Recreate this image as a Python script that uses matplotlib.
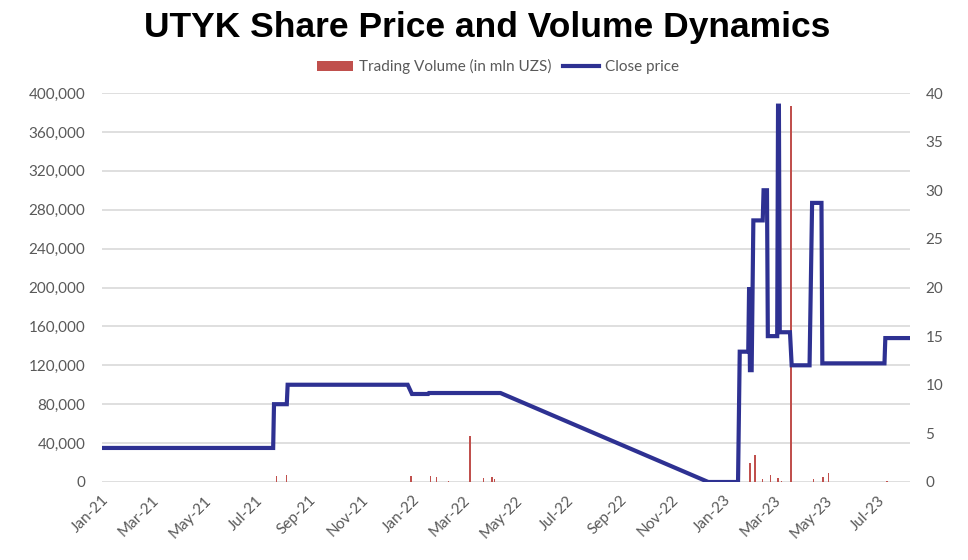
import numpy as np
import pandas as pd
import matplotlib
matplotlib.use("Agg")
import matplotlib.pyplot as plt
import matplotlib.dates as mdates
from matplotlib.ticker import FuncFormatter, MultipleLocator
from matplotlib.patches import Patch
from matplotlib.lines import Line2D

# close price (right axis), breakpoints
price_dates = [
    "2021-01-01", "2021-07-21", "2021-07-22", "2021-08-06", "2021-08-07",
    "2021-12-26", "2021-12-31", "2022-01-19", "2022-01-20", "2022-04-14",
    "2022-12-14", "2023-01-18", "2023-01-20", "2023-01-30", "2023-01-31",
    "2023-02-01", "2023-02-03", "2023-02-05", "2023-02-16", "2023-02-17",
    "2023-02-21", "2023-02-22", "2023-03-05", "2023-03-06", "2023-03-07",
    "2023-03-08", "2023-03-20", "2023-03-22", "2023-04-12", "2023-04-15",
    "2023-04-26", "2023-04-27", "2023-07-09", "2023-07-10", "2023-08-08",
]
price_values = [
    3.5, 3.5, 8.0, 8.0, 10.0,
    10.0, 9.05, 9.05, 9.15, 9.15,
    0.0, 0.0, 13.4, 13.4, 20.0,
    11.5, 11.5, 26.9, 26.9, 30.0,
    30.0, 15.0, 15.0, 38.7, 38.7,
    15.4, 15.4, 12.0, 12.0, 28.7,
    28.7, 12.2, 12.2, 14.8, 14.8,
]

# trading volume in mln UZS (left axis)
volume_dates = [
    "2021-07-25", "2021-08-06", "2021-12-30", "2022-01-22", "2022-01-29",
    "2022-02-12", "2022-03-09", "2022-03-25", "2022-04-04", "2022-04-07",
    "2023-01-20", "2023-02-01", "2023-02-07", "2023-02-16", "2023-02-25",
    "2023-03-06", "2023-03-10", "2023-03-21", "2023-04-17", "2023-04-28",
    "2023-05-04", "2023-07-12",
]
volume_values = [
    6200, 7200, 6200, 6200, 5100,
    1000, 47300, 4100, 5100, 3000,
    1500, 19500, 27800, 3000, 7200,
    4100, 1000, 387000, 3000, 5100,
    9300, 1500,
]

price = pd.Series(price_values, index=pd.to_datetime(price_dates))
volume = pd.Series(volume_values, index=pd.to_datetime(volume_dates))

bar_color = "#C0504D"
line_color = "#2E3192"
text_gray = "#595959"

plt.rcParams["font.family"] = ["Lato", "DejaVu Sans"]

fig = plt.figure(figsize=(9.68, 5.6), dpi=100)
ax = fig.add_axes([0.1054, 0.1393, 0.8347, 0.6946])
ax2 = ax.twinx()

# volume bars on the left axis
ax.bar(volume.index, volume.values, width=1.6, color=bar_color, linewidth=0)
ax.set_ylim(0, 400000)
ax.yaxis.set_major_locator(MultipleLocator(40000))
ax.yaxis.set_major_formatter(FuncFormatter(lambda v, p: f"{int(v):,}"))
ax.grid(axis="y", color="#D9D9D9", linewidth=1.2)
ax.set_axisbelow(True)

# close price on the right axis
ax2.plot(price.index, price.values, color=line_color, linewidth=3.0,
         solid_joinstyle="miter")
ax2.set_ylim(0, 40)
ax2.yaxis.set_major_locator(MultipleLocator(5))

ax.set_xlim(price.index[0], price.index[-1])
ax.xaxis.set_major_locator(mdates.MonthLocator(bymonth=[1, 3, 5, 7, 9, 11]))
ax.xaxis.set_major_formatter(mdates.DateFormatter("%b-%y"))
for lbl in ax.get_xticklabels():
    lbl.set_rotation(45)
    lbl.set_ha("right")
    lbl.set_rotation_mode("anchor")

for a in (ax, ax2):
    for s in a.spines.values():
        s.set_visible(False)
    a.tick_params(length=0, labelsize=11, labelcolor=text_gray)
ax.tick_params(axis="y", pad=12)
ax.tick_params(axis="x", pad=8)
ax2.tick_params(axis="y", pad=11)

handles = [
    Patch(facecolor=bar_color, edgecolor="none"),
    Line2D([0], [0], color=line_color, linewidth=3.0),
]
ax.legend(handles, ["Trading Volume (in mln UZS)", "Close price"],
          loc="center", bbox_to_anchor=(0.49, 1.067), ncol=2, frameon=False,
          fontsize=11, labelcolor=text_gray, handlelength=2.4,
          handletextpad=0.4, columnspacing=0.7, borderaxespad=0)

fig.text(0.503, 0.95, "UTYK Share Price and Volume Dynamics",
         ha="center", va="center", fontsize=25.5, fontweight="bold",
         family="Liberation Sans")

fig.savefig("out.png", dpi=100)
